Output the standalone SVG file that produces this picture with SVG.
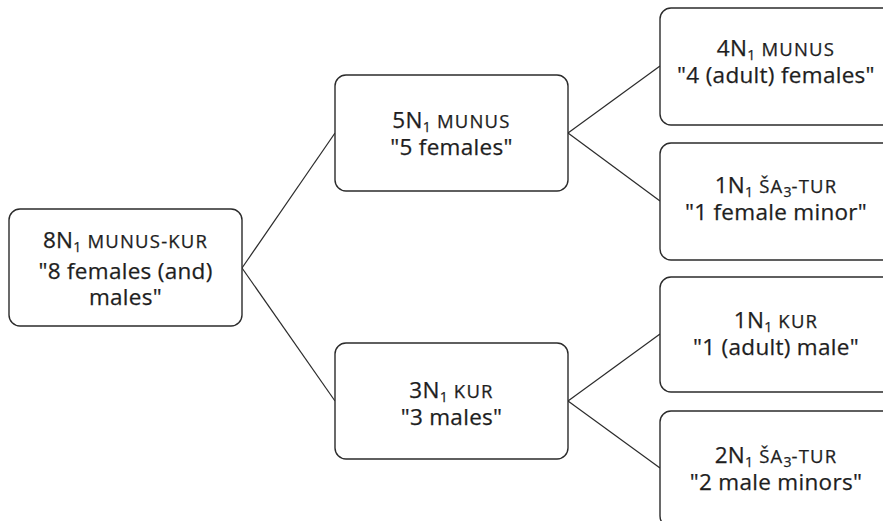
<svg xmlns="http://www.w3.org/2000/svg" width="883" height="521" viewBox="0 0 883 521">
<style>
.box{fill:#fff;stroke:#2b2b2b;stroke-width:1.4}
.edge{stroke:#2b2b2b;stroke-width:1.2;fill:none}
text{font-family:"Open Sans","Noto Sans",sans-serif;font-size:22.5px;letter-spacing:0.3px;fill:#1e1e1e;text-anchor:middle;stroke:#1e1e1e;stroke-width:0.25}
.sc{font-size:18.5px;letter-spacing:1.2px}
.sub{font-size:14px;letter-spacing:0}
</style>
<rect width="883" height="521" fill="#fff"/>
<g id="connectors">
<line class="edge" x1="242" y1="268" x2="335" y2="133"/>
<line class="edge" x1="242" y1="268" x2="335" y2="401"/>
<line class="edge" x1="568" y1="133" x2="660" y2="66"/>
<line class="edge" x1="568" y1="133" x2="660" y2="201"/>
<line class="edge" x1="568" y1="401" x2="660" y2="334"/>
<line class="edge" x1="568" y1="401" x2="660" y2="468"/>
</g>
<g id="root">
<rect class="box" x="9" y="209" width="233" height="117" rx="11"/>
<text x="125.5" y="248">8N<tspan class="sub" dy="4">1</tspan><tspan dy="-4"> </tspan><tspan class="sc">MUNUS-KUR</tspan></text>
<text x="125.5" y="279">"8 females (and)</text>
<text x="125.5" y="305">males"</text>
</g>
<g id="munus5">
<rect class="box" x="335" y="75" width="233" height="116" rx="11"/>
<text x="451.5" y="128">5N<tspan class="sub" dy="4">1</tspan><tspan dy="-4"> </tspan><tspan class="sc">MUNUS</tspan></text>
<text x="451.5" y="155">"5 females"</text>
</g>
<g id="kur3">
<rect class="box" x="335" y="343" width="233" height="116" rx="11"/>
<text x="451.5" y="398">3N<tspan class="sub" dy="4">1</tspan><tspan dy="-4"> </tspan><tspan class="sc">KUR</tspan></text>
<text x="451.5" y="425">"3 males"</text>
</g>
<g id="munus4">
<rect class="box" x="660" y="8" width="233" height="117" rx="11"/>
<text x="776" y="56">4N<tspan class="sub" dy="4">1</tspan><tspan dy="-4"> </tspan><tspan class="sc">MUNUS</tspan></text>
<text x="776" y="83">"4 (adult) females"</text>
</g>
<g id="satur1">
<rect class="box" x="660" y="143" width="233" height="117" rx="11"/>
<text x="776" y="193">1N<tspan class="sub" dy="4">1</tspan><tspan dy="-4"> </tspan><tspan class="sc">ŠA</tspan><tspan class="sub" dy="4">3</tspan><tspan class="sc" dy="-4">-TUR</tspan></text>
<text x="776" y="220">"1 female minor"</text>
</g>
<g id="kur1">
<rect class="box" x="660" y="277" width="233" height="115" rx="11"/>
<text x="776" y="328">1N<tspan class="sub" dy="4">1</tspan><tspan dy="-4"> </tspan><tspan class="sc">KUR</tspan></text>
<text x="776" y="355">"1 (adult) male"</text>
</g>
<g id="satur2">
<rect class="box" x="660" y="411" width="233" height="116" rx="11"/>
<text x="776" y="463">2N<tspan class="sub" dy="4">1</tspan><tspan dy="-4"> </tspan><tspan class="sc">ŠA</tspan><tspan class="sub" dy="4">3</tspan><tspan class="sc" dy="-4">-TUR</tspan></text>
<text x="776" y="490">"2 male minors"</text>
</g>
</svg>
